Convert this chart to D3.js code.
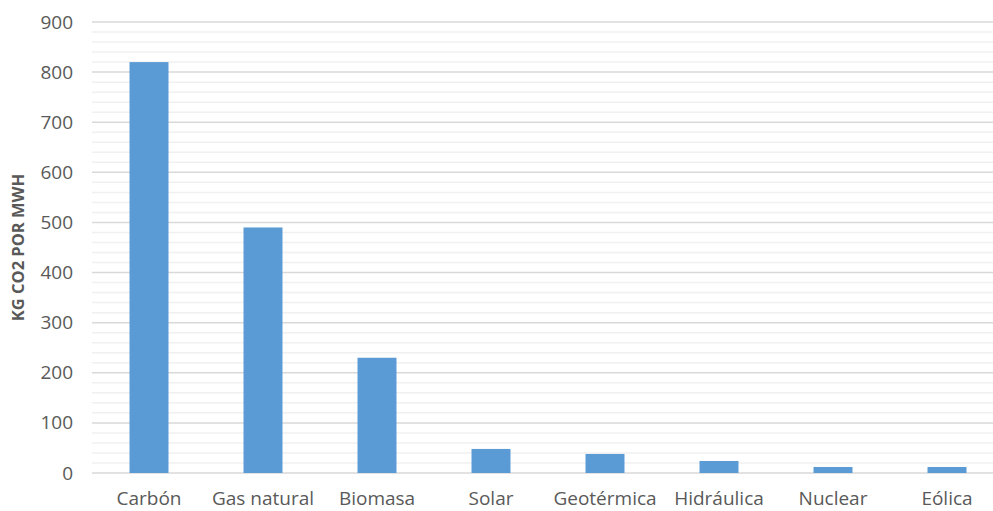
<!DOCTYPE html>
<html>
<head>
<meta charset="utf-8">
<script src="https://cdn.jsdelivr.net/npm/d3@7"></script>
<style>
  html, body { margin: 0; padding: 0; background: #ffffff; }
  svg { display: block; }
  text { font-family: "Open Sans", sans-serif; fill: #595959; }
</style>
</head>
<body>
<svg id="chart" width="993" height="511"></svg>
<script>
// Emisiones de CO2 por fuente de generación eléctrica
const categories = ["Carbón", "Gas natural", "Biomasa", "Solar", "Geotérmica", "Hidráulica", "Nuclear", "Eólica"];
const values = [820, 490, 230, 48, 38, 24, 12, 12];
const yTicks = [0, 100, 200, 300, 400, 500, 600, 700, 800, 900];
const yMinorStep = 20;
const yTitle = "KG CO2 POR MWH";

const svg = d3.select("#chart");
const margin = { top: 22, left: 92, bottom: 38 };
const height = 511;
const plotBottom = height - margin.bottom;

const x = d3.scaleBand()
  .domain(categories)
  .range([margin.left, margin.left + 114 * categories.length])
  .padding(0);

const y = d3.scaleLinear()
  .domain([0, 900])
  .range([plotBottom, margin.top]);

const gridRight = 993;

// minor gridlines
const minor = d3.range(0, 900 + 1, yMinorStep).filter(v => v % 100 !== 0);
svg.append("g")
  .selectAll("line")
  .data(minor)
  .join("line")
  .attr("x1", margin.left)
  .attr("x2", gridRight)
  .attr("y1", d => y(d))
  .attr("y2", d => y(d))
  .attr("stroke", "#f0f0f0")
  .attr("stroke-width", 1.5);

// major gridlines
svg.append("g")
  .selectAll("line")
  .data(yTicks)
  .join("line")
  .attr("x1", margin.left)
  .attr("x2", gridRight)
  .attr("y1", d => y(d))
  .attr("y2", d => y(d))
  .attr("stroke", "#d9d9d9")
  .attr("stroke-width", 1.5);

// y axis labels
const yAxis = d3.axisLeft(y).tickValues(yTicks).tickSize(0).tickPadding(0);
const gy = svg.append("g")
  .attr("transform", `translate(${margin.left - 19},0)`)
  .call(yAxis);
gy.select(".domain").remove();
gy.selectAll("text")
  .attr("font-size", 19)
  .attr("font-family", "'Open Sans', sans-serif")
  .attr("fill", "#595959");

// bars
const barW = x.bandwidth() * 0.342;
svg.append("g")
  .selectAll("rect")
  .data(categories.map((c, i) => ({ c, v: values[i] })))
  .join("rect")
  .attr("x", d => x(d.c) + (x.bandwidth() - barW) / 2)
  .attr("width", barW)
  .attr("y", d => y(d.v))
  .attr("height", d => y(0) - y(d.v))
  .attr("fill", "#5b9bd5");

// category axis
const xAxis = d3.axisBottom(x).tickSize(0).tickPadding(0);
const gx = svg.append("g")
  .attr("transform", `translate(0,${plotBottom})`)
  .call(xAxis);
gx.select(".domain").remove();
gx.selectAll("text")
  .attr("dy", null)
  .attr("y", 32)
  .attr("font-size", 19)
  .attr("font-family", "'Open Sans', sans-serif")
  .attr("fill", "#595959");

// y axis title
svg.append("text")
  .attr("transform", `translate(24,${(y(0) + y(900)) / 2}) rotate(-90)`)
  .attr("text-anchor", "middle")
  .attr("font-size", 16.5)
  .attr("font-weight", "bold")
  .attr("fill", "#595959")
  .text(yTitle);
</script>
</body>
</html>
